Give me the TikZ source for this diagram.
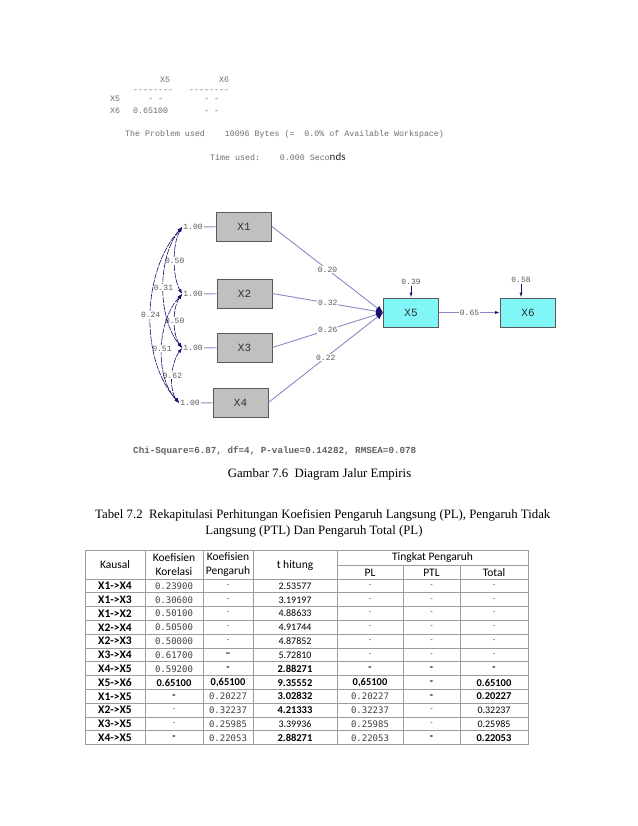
\documentclass[tikz,border=0pt]{standalone}
\usepackage{fontspec}
\setmainfont{Liberation Serif}
\newfontfamily\lisrel{Liberation Mono}
\newfontfamily\calib{Carlito}
\newfontfamily\spmono{DejaVu Sans Mono}
\usetikzlibrary{arrows.meta}
\definecolor{LisrelGray}{HTML}{6E6E6E}
\definecolor{PathBlue}{HTML}{8A8AC6}
\definecolor{TipNavy}{HTML}{12126E}
\definecolor{BoxGray}{HTML}{C0C0C0}
\definecolor{BoxCyan}{HTML}{80F6F6}
\definecolor{GridGray}{HTML}{9C9C9C}
\definecolor{CellGray}{HTML}{404040}
\newcommand\mval[1]{{\spmono\fontsize{9bp}{10bp}\selectfont\color{CellGray}#1}}
\newcommand\dsh{{\fontsize{8bp}{9bp}\selectfont\color{CellGray}-}}
\newcommand\bdsh{{\fontsize{10.5bp}{11bp}\selectfont\bfseries -}}
\newcommand\tval[1]{{\fontsize{10bp}{11bp}\selectfont #1}}
\newcommand\bval[1]{{\fontsize{10.5bp}{11bp}\selectfont\bfseries #1}}

\begin{document}
\begin{tikzpicture}[x=1bp, y=-1bp,
  lis/.style={font=\lisrel\fontsize{8.3bp}{10bp}\selectfont, text=LisrelGray, inner sep=0pt, anchor=base west},
  obsbox/.style={draw=black!65, fill=BoxGray, line width=0.8bp, minimum width=55bp, minimum height=29bp,
                 font=\lisrel\fontsize{11bp}{12bp}\selectfont, text=black!80},
  endobox/.style={obsbox, fill=BoxCyan},
  lbl/.style={font=\lisrel\fontsize{8bp}{9bp}\selectfont, text=black!65, fill=white, inner sep=1bp},
  pth/.style={PathBlue, line width=0.9bp},
  cov/.style={TipNavy, line width=0.6bp, dash pattern=on 6bp off 1bp,
              {Latex[length=5bp,width=3.5bp]}-{Latex[length=5bp,width=3.5bp]}},
  grid/.style={GridGray, line width=0.9bp},
  hdr/.style={font=\calib\fontsize{11.5bp}{14bp}\selectfont, text=black, align=center, inner sep=0pt},
  cell/.style={font=\calib, inner sep=0pt},
]
  \fill[white] (0,0) rectangle (638,826);
  \useasboundingbox (0,0) rectangle (638,826);

  % LISREL output
  \node[lis] (c5) at (160,82) {X5};
  \node[lis] (c6) at (219,82) {X6};
  \node[lis] (d5) at (133,92) {--------};
  \node[lis] (d6) at (189,92) {--------};
  \node[lis] (r5) at (110,101) {X5};
  \node[lis] (r5a) at (148,101) {- -};
  \node[lis] (r5b) at (204,101) {- -};
  \node[lis] (r6) at (110,113) {X6};
  \node[lis] (r6a) at (133,113) {0.65100};
  \node[lis] (r6b) at (204,113) {- -};
  \node[lis] (used) at (125,136) {The Problem used\ \ \ \ 10096 Bytes (=\ \ 0.0\% of Available Workspace)};
  \node[lis] (time) at (210,160) {Time used:\ \ \ \ 0.000 Seco{\calib\fontsize{11bp}{12bp}\selectfont\color{black!85}nds}};

  % path diagram
  \node[obsbox] (x1) at (244,226.5) {X1};
  \node[obsbox] (x2) at (244.5,293.5) {X2};
  \node[obsbox] (x3) at (244.5,347.5) {X3};
  \node[obsbox] (x4) at (240.5,402.5) {X4};
  \node[endobox] (x5) at (411,312.5) {X5};
  \node[endobox] (x6) at (528,312.5) {X6};

  \node[lbl] (v1) at (193,227) {1.00};
  \node[lbl] (v2) at (193,294) {1.00};
  \node[lbl] (v3) at (193,348) {1.00};
  \node[lbl] (v4) at (190,403) {1.00};
  \foreach \k in {1,...,4}
    \draw[pth] (v\k) -- (x\k);

  \draw[cov] (v1.west) .. controls +(-10,17) and +(-10,-17) .. (v2.west) node[lbl, pos=0.5] (k12) {0.50};
  \draw[cov] (v2.west) .. controls +(-10,14) and +(-10,-14) .. (v3.west) node[lbl, pos=0.5] (k23) {0.50};
  \draw[cov] (v3.west) .. controls +(-11,14) and +(-11,-14) .. (v4.west) node[lbl, pos=0.5] (k34) {0.62};
  \draw[cov] (v1.west) .. controls +(-25,30) and +(-25,-30) .. (v3.west) node[lbl, pos=0.5] (k13) {0.31};
  \draw[cov] (v2.west) .. controls +(-25,27) and +(-25,-27) .. (v4.west) node[lbl, pos=0.5] (k24) {0.51};
  \draw[cov] (v1.west) .. controls +(-40,44) and +(-40,-44) .. (v4.west) node[lbl, pos=0.5] (k14) {0.24};

  \draw[pth, -{Latex[color=TipNavy, length=7bp, width=6bp]}] (x1.east) -- (x5.west) node[lbl, midway] (g1) {0.20};
  \draw[pth, -{Latex[color=TipNavy, length=7bp, width=6bp]}] (x2.east) -- (x5.west) node[lbl, midway] (g2) {0.32};
  \draw[pth, -{Latex[color=TipNavy, length=7bp, width=6bp]}] (x3.east) -- (x5.west) node[lbl, midway] (g3) {0.26};
  \draw[pth, -{Latex[color=TipNavy, length=7bp, width=6bp]}] (x4.east) -- (x5.west) node[lbl, midway] (g4) {0.22};
  \draw[pth, -{Latex[color=TipNavy, length=5bp, width=3bp]}] (x5) -- (x6) node[lbl, midway] (b56) {0.65};

  \node[lbl] (e5) at (411,282) {0.39};
  \node[lbl] (e6) at (521,280) {0.58};
  \draw[TipNavy, line width=0.8bp, -{Latex[length=5bp, width=3bp]}] (e5) -- (x5);
  \draw[TipNavy, line width=0.8bp, -{Latex[length=5bp, width=3bp]}] (e6) -- (e6 |- x6.north);

  \node[lis, font=\lisrel\bfseries\fontsize{9.25bp}{11bp}\selectfont, text=black!62] (fit) at (133,453)
    {Chi-Square=6.87, df=4, P-value=0.14282, RMSEA=0.078};

  % captions
  \node[font=\fontsize{12.8bp}{15bp}\selectfont, inner sep=0pt] (cap) at (319.5,474) {Gambar 7.6\ \ Diagram Jalur Empiris};
  \node[font=\fontsize{12.8bp}{15bp}\selectfont, inner sep=0pt, anchor=base west] (tcap1) at (95,518)
    {Tabel 7.2\ \ Rekapitulasi Perhitungan Koefisien Pengaruh Langsung (PL), Pengaruh Tidak};
  \node[font=\fontsize{12.8bp}{15bp}\selectfont, inner sep=0pt, anchor=base] (tcap2) at (314,534)
    {Langsung (PTL) Dan Pengaruh Total (PL)};

  % table
  \draw[grid] (85,550) rectangle (528,744.6);
  \foreach \xv in {145,203,253,337}
    \draw[grid] (\xv,550) -- (\xv,744.6);
  \foreach \xv in {403,460}
    \draw[grid] (\xv,565) -- (\xv,744.6);
  \draw[grid] (337,565) -- (528,565);
  \foreach \rw in {0,...,11}
    \draw[grid] (85,579+13.8*\rw) -- (528,579+13.8*\rw);

  \node[hdr] (hk) at (115,565) {Kausal};
  \node[hdr] (hr) at (174,565) {Koefisien\\Korelasi};
  \node[hdr] (hp) at (228,565) {Koefisien\\Pengaruh};
  \node[hdr] (ht) at (295,565) {t hitung};
  \node[hdr] (hg) at (432.5,557.5) {Tingkat Pengaruh};
  \node[hdr] (hl) at (370,572.5) {PL};
  \node[hdr] (hx) at (431.5,572.5) {PTL};
  \node[hdr] (hs) at (494,572.5) {Total};

  \foreach \cA/\cB/\cC/\cD/\cE/\cF/\cG [count=\rw from 0] in {
    X1->X4/\mval{0.23900}/\dsh/\tval{2.53577}/\dsh/\dsh/\dsh,
    X1->X3/\mval{0.30600}/\dsh/\tval{3.19197}/\dsh/\dsh/\dsh,
    X1->X2/\mval{0.50100}/\dsh/\tval{4.88633}/\dsh/\dsh/\dsh,
    X2->X4/\mval{0.50500}/\dsh/\tval{4.91744}/\dsh/\dsh/\dsh,
    X2->X3/\mval{0.50000}/\dsh/\tval{4.87852}/\dsh/\dsh/\dsh,
    X3->X4/\mval{0.61700}/\bval{\textendash}/\tval{5.72810}/\dsh/\dsh/\dsh,
    X4->X5/\mval{0.59200}/\bdsh/\bval{2.88271}/\bdsh/\bdsh/\bdsh,
    X5->X6/\bval{0.65100}/\bval{0,65100}/\bval{9.35552}/\bval{0,65100}/\bdsh/\bval{0.65100},
    X1->X5/\bdsh/\mval{0.20227}/\bval{3.02832}/\mval{0.20227}/\bdsh/\bval{0.20227},
    X2->X5/\dsh/\mval{0.32237}/\bval{4.21333}/\mval{0.32237}/\dsh/\tval{0.32237},
    X3->X5/\dsh/\mval{0.25985}/\tval{3.39936}/\mval{0.25985}/\dsh/\tval{0.25985},
    X4->X5/\bdsh/\mval{0.22053}/\bval{2.88271}/\mval{0.22053}/\bdsh/\bval{0.22053}} {
    \pgfmathsetmacro\ry{586+13.8*\rw}
    \node[cell, font=\calib\bfseries\fontsize{11.5bp}{12bp}\selectfont] (ka\rw) at (115,\ry) {\cA};
    \node[cell] (kr\rw) at (174,\ry) {\cB};
    \node[cell] (kp\rw) at (228,\ry) {\cC};
    \node[cell] (kt\rw) at (295,\ry) {\cD};
    \node[cell] (kl\rw) at (370,\ry) {\cE};
    \node[cell] (kx\rw) at (431.5,\ry) {\cF};
    \node[cell] (ks\rw) at (494,\ry) {\cG};
  }
\end{tikzpicture}
\end{document}
